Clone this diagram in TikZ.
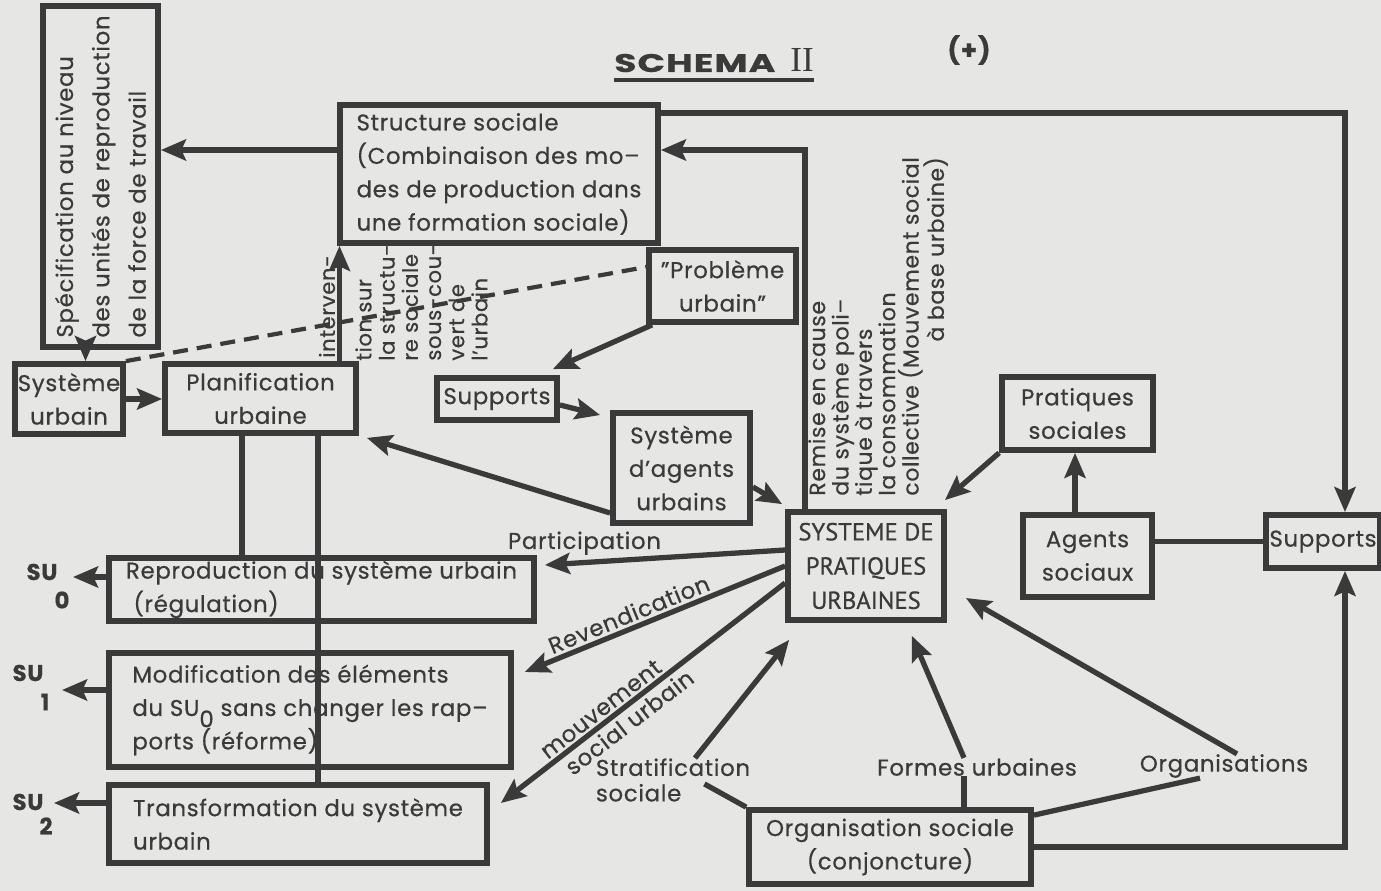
\documentclass[tikz,border=0pt]{standalone}
\usepackage{fontspec}
\setmainfont{Poppins}[LetterSpace=3, FakeBold=0.5]
\newfontfamily\capsfont{PT Sans}[FakeBold=0.6]
\newfontfamily\serif{Liberation Serif}
\usetikzlibrary{arrows.meta}
\definecolor{ink}{RGB}{58,58,58}
\definecolor{paper}{RGB}{230,230,228}

\begin{document}
\begin{tikzpicture}[x=0.02cm, y=-0.02cm, line join=miter,
  box/.style={draw=ink, line width=3.3pt, inner sep=0pt, text=ink, align=left,
    font=\fontsize{13}{19}\selectfont},
  lbl/.style={text=ink, inner sep=0pt, font=\fontsize{13}{14.5}\selectfont},
  arr/.style={draw=ink, line width=3pt, -{Stealth[length=0.5cm,width=0.42cm,inset=0.09cm]}},
  link/.style={draw=ink, line width=3pt}]
  % paper and page size
  \fill[paper] (0,0) rectangle (1381,891);
  \useasboundingbox (0,0) rectangle (1381,891);

  % Title
  \node[text=ink, inner sep=0pt, anchor=base] (titre) at (714,72)
    {\scalebox{1.42}[1]{\fontsize{14.5}{14.5}\selectfont\bfseries SCHEMA}\hspace{0.3cm}{\serif\fontsize{20}{20}\selectfont II}};
  \draw[ink, line width=2pt] ([yshift=-0.16cm]titre.base west) -- ([yshift=-0.16cm]titre.base east);
  \node[text=ink, font=\bfseries\fontsize{15}{15}\selectfont] (plus) at (969,50) {(+)};

  % Boxes, top part
  \node[box, rotate=90, minimum width=6.82cm, minimum height=2.3cm,
    font=\fontsize{13}{20.7}\selectfont] (spec) at (100.5,176.5)
    {Spécification au niveau\\des unités de reproduction\\de la force de travail};
  \node[box, minimum width=6.36cm, minimum height=2.76cm] (structure) at (499,174)
    {Structure sociale\\(Combinaison des mo–\\des de production dans\\une formation sociale)};
  \node[box, align=center, minimum width=2.94cm, minimum height=1.44cm] (probleme) at (722.5,286) {"Problème\\urbain"};
  \node[box, align=center, minimum width=2.16cm, minimum height=1.4cm] (sysurb) at (69,399) {Système\\urbain};
  \node[box, align=center, minimum width=3.82cm, minimum height=1.38cm] (planif) at (260.5,398.5) {Planification\\urbaine};
  \node[box, minimum width=2.4cm, minimum height=0.84cm] (supports) at (497,399) {Supports};
  \node[box, align=center, minimum width=2.74cm, minimum height=2.2cm] (agentsurb) at (681.5,468) {Système\\d’agents\\urbains};

  % Boxes, right part
  \node[box, align=center, minimum width=3.12cm, minimum height=2.16cm,
    font=\capsfont\fontsize{14}{19.5}\selectfont] (spu) at (866,566) {SYSTEME DE\\PRATIQUES\\URBAINES};
  \node[box, align=center, minimum width=3.02cm, minimum height=1.46cm] (pratsoc) at (1077.5,413.5) {Pratiques\\sociales};
  \node[box, align=center, minimum width=2.58cm, minimum height=1.64cm] (agsoc) at (1087.5,556) {Agents\\sociaux};
  \node[box, minimum width=2.28cm, minimum height=1.06cm] (supportsb) at (1323,541.5) {Supports};
  \node[box, align=center, minimum width=5.64cm, minimum height=1.48cm] (orgsoc) at (890,847) {Organisation sociale\\(conjoncture)};

  % Boxes, left bottom
  \node[box, minimum width=8.5cm, minimum height=1.26cm] (repro) at (321.5,589.5)
    {Reproduction du système urbain\\\hspace*{0.15cm}(régulation)};
  \node[box, minimum width=8.04cm, minimum height=2.28cm] (modif) at (310,710)
    {Modification des éléments\\du SU\smash{\raisebox{-0.9ex}{0}} sans changer les rap–\\ports (réforme)};
  \node[box, minimum width=7.56cm, minimum height=1.56cm] (transf) at (298,824)
    {Transformation du système\\urbain};

  % Free labels
  \node[lbl, align=left] (strat) at (673,780) {Stratification\\sociale};
  \node[lbl] (formes) at (977,767) {Formes urbaines};
  \node[lbl] (orgs) at (1224,766) {Organisations};
  \node[lbl, font=\bfseries\fontsize{13}{13}\selectfont] (su0) at (42,572) {SU};
  \node[lbl, font=\bfseries\fontsize{13}{13}\selectfont] (su0n) at (62,600) {0};
  \node[lbl, font=\bfseries\fontsize{13}{13}\selectfont] (su1) at (28,673) {SU};
  \node[lbl, font=\bfseries\fontsize{13}{13}\selectfont] (su1n) at (45,702) {1};
  \node[lbl, font=\bfseries\fontsize{13}{13}\selectfont] (su2) at (28,802) {SU};
  \node[lbl, font=\bfseries\fontsize{13}{13}\selectfont] (su2n) at (46,826) {2};

  % Rotated texts
  \node[lbl, rotate=90, anchor=west, font=\fontsize{12}{13}\selectfont] (interven) at (327,358) {interven-};
  \node[lbl, rotate=90, anchor=north west, align=left, font=\fontsize{12}{13.2}\selectfont] (surstruct) at (355,361)
    {tion sur\\la structu-\\re sociale\\sous-cou-\\vert de\\l’urbain};
  \node[lbl, rotate=90, anchor=north west, align=left, font=\fontsize{12.5}{13.3}\selectfont] (remise) at (808,496)
    {Remise en cause\\du système poli–\\tique à travers\\la consommation\\collective (Mouvement social};
  \node[lbl, rotate=90, anchor=north east, font=\fontsize{12.5}{13.3}\selectfont] (abase) at (remise.south east) {à base urbaine)};

  % Connectors, top
  \draw[arr] ([yshift=0.48cm]structure.west) coordinate (s1) -- (s1 -| spec.south);
  \draw[arr] ([xshift=-0.3cm]spec.west) coordinate (s2) -- (s2 |- sysurb.north);
  \draw[link, line width=2.4pt, dash pattern=on 0.3cm off 0.18cm] (sysurb.north east) -- ([yshift=0.38cm]probleme.west);
  \draw[arr] (sysurb.east) -- (sysurb.east -| planif.west);
  \draw[arr] ([xshift=1.58cm]planif.north) coordinate (iv) -- (iv |- structure.south);
  \draw[link] ([xshift=-0.37cm]planif.south) coordinate (p1) -- (p1 |- repro.north);
  \draw[link] ([xshift=1.15cm]planif.south) coordinate (p2) -- (p2 |- transf.north);
  \draw[arr] ([xshift=0.12cm]probleme.south west) -- ([shift={(-0.14cm,0.12cm)}]supports.north east);
  \draw[arr] ([yshift=-0.12cm]supports.east) -- ([shift={(-0.2cm,1.06cm)}]agentsurb.west);
  \draw[arr] ([yshift=-0.9cm]agentsurb.west) -- ([shift={(0.16cm,-0.04cm)}]planif.south east);
  \draw[arr] ([yshift=-0.38cm]agentsurb.east) -- ([shift={(-0.06cm,0.1cm)}]spu.north west);
  \draw[arr] ([xshift=-1.22cm]spu.north) |- ([yshift=0.48cm]structure.east);
  \draw[arr] ([yshift=1.22cm]structure.east) -| ([xshift=0.44cm]supportsb.north);

  % Connectors, right
  \draw[arr] (orgsoc.east) -| ([xshift=0.44cm]supportsb.south);
  \draw[arr] (pratsoc.south west) -- ([shift={(-0.04cm,0.18cm)}]spu.north east);
  \draw[arr] ([xshift=-0.25cm]agsoc.north) coordinate (g1) -- (g1 |- pratsoc.south);
  \draw[link] (supportsb.west -| agsoc.east) -- (supportsb.west);

  % Connectors from the system of practices
  \draw[arr] ([yshift=0.32cm]spu.west) -- ([shift={(0.16cm,0.49cm)}]repro.east)
    node[lbl, pos=0.835, above=0.1cm] (lpart) {Participation};
  \draw[arr] (spu.west) -- ([shift={(0.22cm,0.76cm)}]modif.east)
    node[lbl, pos=0.58, sloped, above=0.06cm] (lrev) {Revendication};
  \draw[arr] ([yshift=-0.34cm]spu.west) -- ([shift={(0.22cm,0.42cm)}]transf.east)
    node[lbl, pos=0.62, sloped, above=0.05cm] (lmouv) {mouvement}
    node[lbl, pos=0.58, sloped, below=0.06cm] (lsoc) {social urbain};

  % Connectors, bottom
  \draw[arr] ([xshift=0.44cm]strat.north) -- ([shift={(0.08cm,-0.34cm)}]spu.south west);
  \draw[link] ([shift={(-0.92cm,0.36cm)}]strat.south east) -- (orgsoc.north west);
  \draw[arr] ([xshift=-0.26cm]formes.north) -- ([shift={(-0.7cm,-0.26cm)}]spu.south east);
  \draw[link] ([xshift=-0.26cm]formes.south) coordinate (f1) -- (f1 |- orgsoc.north);
  \draw[arr] ([xshift=0.26cm]orgs.north) -- ([shift={(0.38cm,-0.64cm)}]spu.east);
  \draw[link] ([xshift=-0.48cm]orgs.south) -- ([yshift=-0.16cm]orgsoc.north east);

  % SU outputs
  \coordinate (t0) at (73,577);
  \coordinate (t1) at (62,690);
  \coordinate (t2) at (54,803);
  \draw[arr] (repro.west |- t0) -- (t0);
  \draw[arr] (modif.west |- t1) -- (t1);
  \draw[arr] (transf.west |- t2) -- (t2);
\end{tikzpicture}
\end{document}
